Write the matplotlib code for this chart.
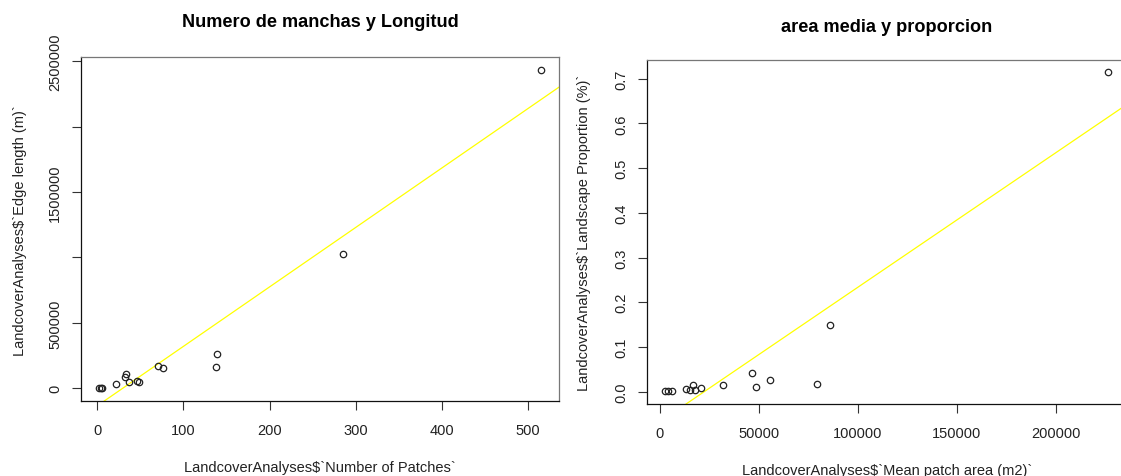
import numpy as np
import matplotlib
matplotlib.use("Agg")
import matplotlib.pyplot as plt

# ---- data ----
n_patches = [2.0, 4.0, 5.5, 21.8, 33.4, 32.2, 37.3, 46.6, 48.9, 70.3, 76.8,
             139.3, 137.4, 285.2, 515.4]
edge_length = [0, 2000, 0, 35000, 110000, 89000, 48000, 58000, 46000, 173000,
               158000, 261000, 166000, 1027600, 2433000]

mean_area = [2680, 4340, 6360, 13280, 15150, 16820, 17680, 20700, 32120,
             46770, 48790, 55550, 79600, 86000, 226560]
land_prop = [0.001, 0.001, 0.001, 0.005, 0.003, 0.014, 0.003, 0.008, 0.014,
             0.042, 0.010, 0.027, 0.017, 0.150, 0.714]

left_xticks = [0, 100, 200, 300, 400, 500]
left_yticks = [0, 500000, 1000000, 1500000, 2000000, 2500000]
left_ylabels = ["0", "500000", "", "1500000", "", "2500000"]
right_xticks = [0, 50000, 100000, 150000, 200000]
right_yticks = [0.0, 0.1, 0.2, 0.3, 0.4, 0.5, 0.6, 0.7]

titles = ["Numero de manchas y Longitud", "area media y proporcion"]
xlabels = ["LandcoverAnalyses$`Number of Patches`",
           "LandcoverAnalyses$`Mean patch area (m2)`"]
ylabels = ["LandcoverAnalyses$`Edge length (m)`",
           "LandcoverAnalyses$`Landscape Proportion (%)`"]

plt.rcParams['font.family'] = ['Liberation Sans', 'DejaVu Sans']

W, H = 1121, 477
fig = plt.figure(figsize=(W / 100, H / 100), dpi=100)

def px_axes(l, r, t, b):
    return fig.add_axes([l / W, 1 - b / H, (r - l) / W, (b - t) / H])

ax1 = px_axes(81.3, 559.0, 58.3, 402.0)
ax2 = px_axes(647.3, 1126.0, 60.7, 405.0)

def r_lim(v):
    lo, hi = min(v), max(v)
    d = 0.04 * (hi - lo)
    return lo - d, hi + d

def style(ax, x, y, xt, yt, ytl, title, xl, yl, lab_x, lab_y, title_y):
    ax.plot(x, y, 'o', mfc='none', mec='#222222', ms=4.6, mew=0.9, zorder=3)
    m, b = np.polyfit(x, y, 1)
    ax.axline((0, b), slope=m, color='#ffff00', lw=0.9, zorder=2)
    ax.set_xlim(*r_lim(x))
    ax.set_ylim(*r_lim(y))
    ax.set_xticks(xt)
    ax.set_yticks(yt)
    ax.set_xticklabels([str(v) for v in xt])
    ax.set_yticklabels(ytl, rotation=90, va='center')
    ax.tick_params(axis='both', direction='out', length=6.2, width=0.8,
                   color='#333333', labelsize=10.5, labelcolor='#222222')
    ax.tick_params(axis='x', pad=9.5)
    ax.tick_params(axis='y', pad=7.5)
    for s in ['left', 'bottom']:
        ax.spines[s].set_color('#111111')
        ax.spines[s].set_linewidth(0.9)
    for s in ['top', 'right']:
        ax.spines[s].set_color('#777777')
        ax.spines[s].set_linewidth(0.9)
    ax.set_title(title, fontsize=13.1, fontweight='bold', y=title_y, pad=0,
                 va='baseline')
    ax.set_xlabel(xl, fontsize=10.5, color='#222222')
    ax.set_ylabel(yl, fontsize=10.5, color='#222222')
    ax.xaxis.set_label_coords(0.5, lab_y)
    ax.yaxis.set_label_coords(lab_x, 0.5)

style(ax1, n_patches, edge_length, left_xticks, left_yticks, left_ylabels,
      titles[0], xlabels[0], ylabels[0], -0.113, -0.172, 1.091)
style(ax2, mean_area, land_prop, right_xticks, right_yticks,
      [f"{v:.1f}" for v in right_yticks],
      titles[1], xlabels[1], ylabels[1], -0.117, -0.171, 1.084)

fig.savefig("out.png", dpi=100)
